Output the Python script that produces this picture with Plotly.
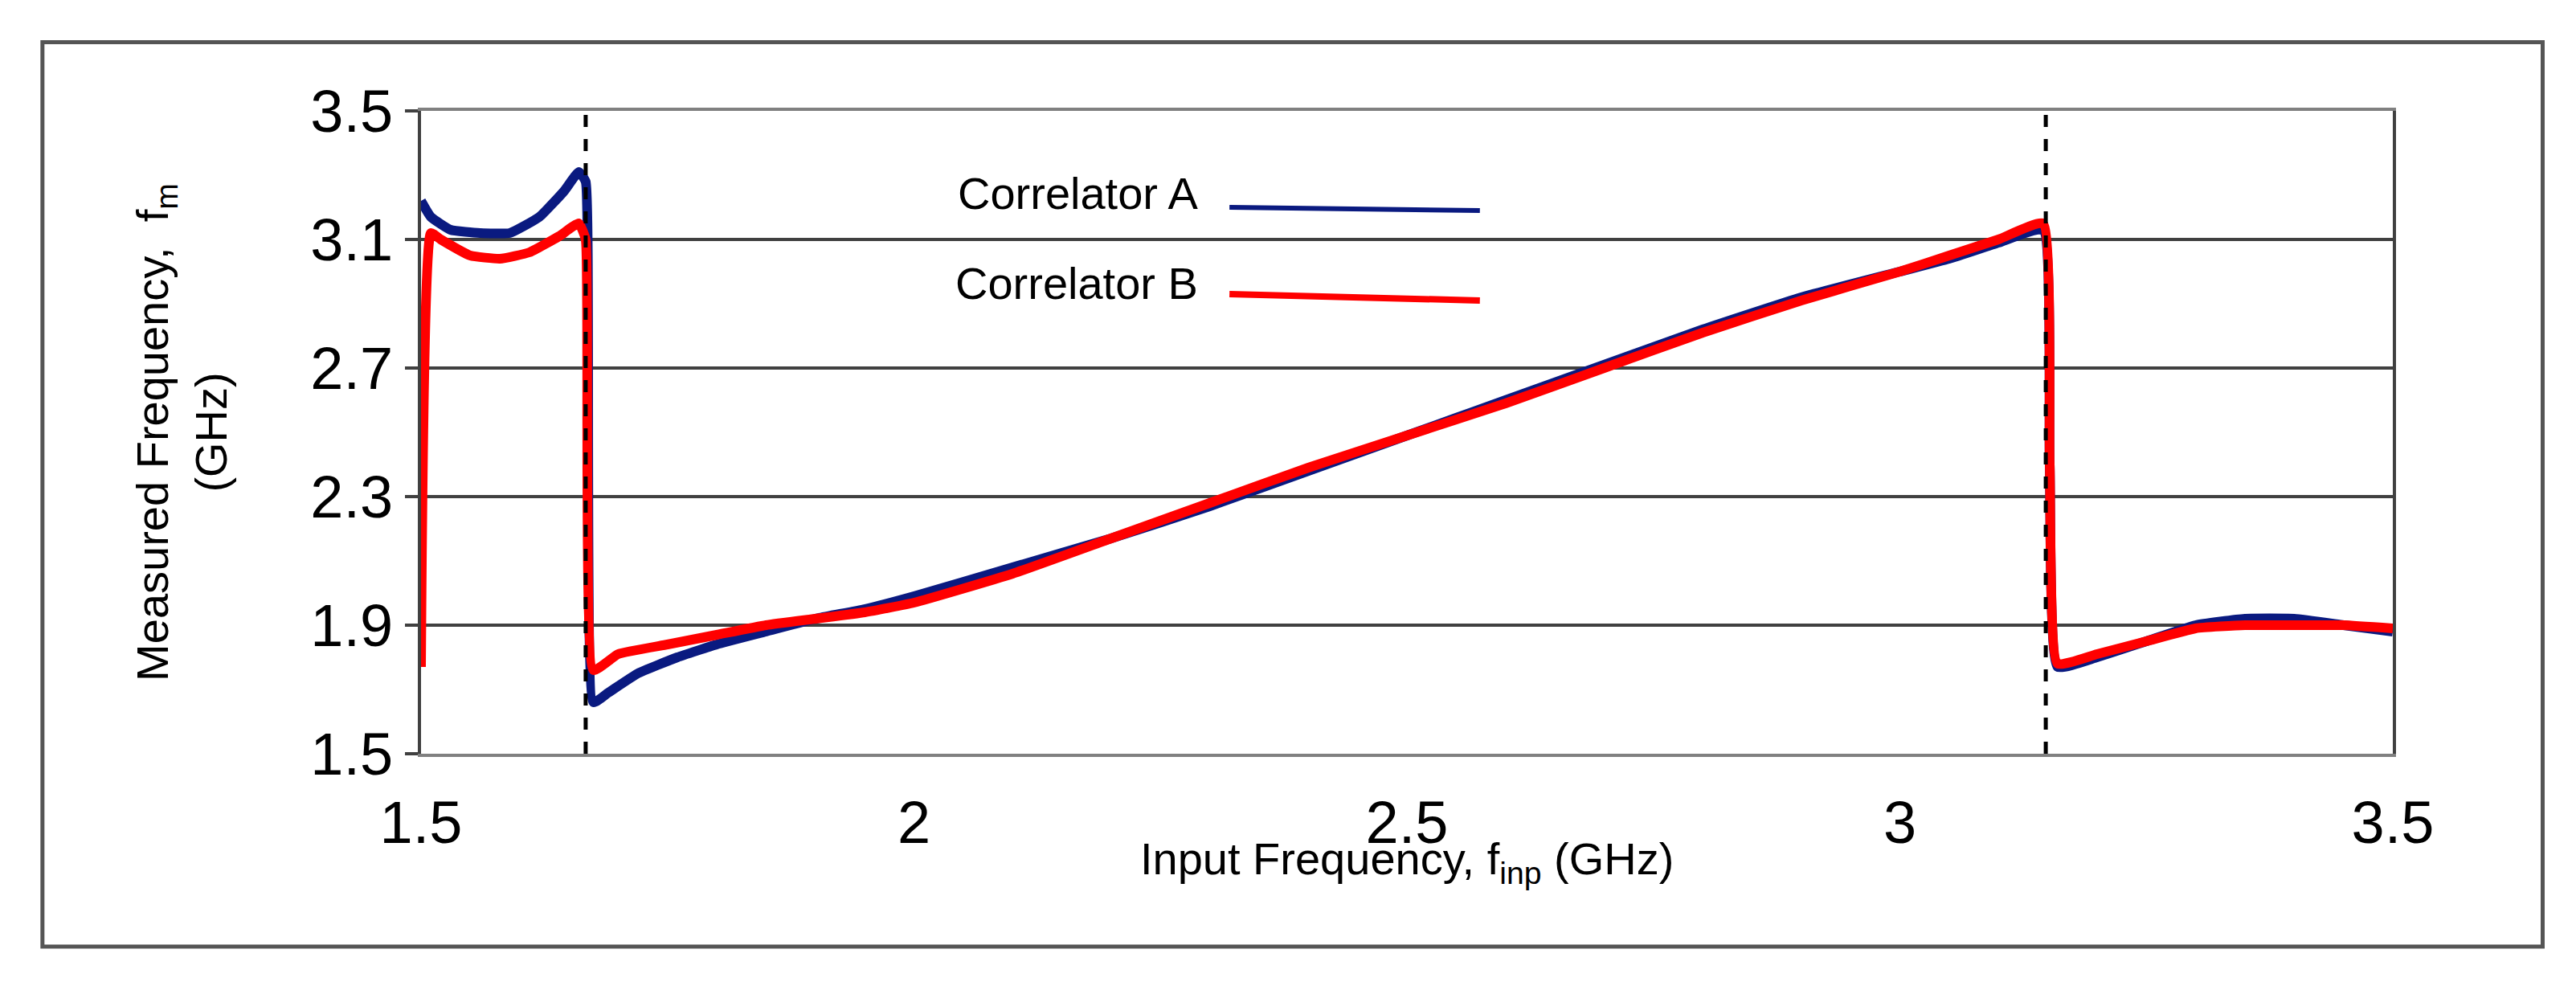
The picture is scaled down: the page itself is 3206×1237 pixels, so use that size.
import plotly.graph_objects as go

xa = [1.5, 1.51, 1.53, 1.56, 1.59, 1.62, 1.645, 1.66, 1.667, 1.675, 1.69, 1.72, 1.76, 1.8, 1.85, 1.9, 1.95, 2.0, 2.1, 2.2, 2.3, 2.4, 2.5, 2.6, 2.7, 2.8, 2.9, 3.0, 3.05, 3.1, 3.145, 3.152, 3.16, 3.2, 3.25, 3.3, 3.35, 3.4, 3.45, 3.5]
ya = [3.22, 3.17, 3.13, 3.12, 3.12, 3.17, 3.25, 3.31, 3.28, 1.66, 1.69, 1.75, 1.8, 1.84, 1.88, 1.92, 1.95, 1.99, 2.08, 2.17, 2.27, 2.38, 2.49, 2.6, 2.71, 2.82, 2.92, 3.0, 3.04, 3.09, 3.13, 2.4, 1.77, 1.8, 1.85, 1.9, 1.92, 1.92, 1.9, 1.88]
xb = [1.5, 1.51, 1.52, 1.55, 1.58, 1.61, 1.64, 1.66, 1.667, 1.675, 1.7, 1.75, 1.8, 1.85, 1.9, 1.95, 2.0, 2.1, 2.2, 2.3, 2.4, 2.5, 2.6, 2.7, 2.8, 2.9, 3.0, 3.05, 3.1, 3.145, 3.152, 3.16, 3.2, 3.25, 3.3, 3.35, 3.4, 3.45, 3.5]
yb = [1.77, 3.12, 3.1, 3.05, 3.04, 3.06, 3.11, 3.15, 3.1, 1.76, 1.81, 1.84, 1.87, 1.9, 1.92, 1.94, 1.97, 2.06, 2.17, 2.28, 2.39, 2.49, 2.59, 2.7, 2.81, 2.91, 3.0, 3.05, 3.1, 3.15, 2.4, 1.78, 1.81, 1.85, 1.89, 1.9, 1.9, 1.9, 1.89]
vlines = [1.667, 3.148]
yticks = [1.5, 1.9, 2.3, 2.7, 3.1, 3.5]
xticks = [1.5, 2, 2.5, 3, 3.5]
names = ["Correlator A", "Correlator B"]
colors = ["#0a1a80", "#ff0000"]

fig = go.Figure()
fig.add_trace(go.Scatter(x=xa, y=ya, mode="lines", line=dict(color=colors[0], width=12, shape="spline", smoothing=0.4), name=names[0]))
fig.add_trace(go.Scatter(x=xb, y=yb, mode="lines", line=dict(color=colors[1], width=12, shape="spline", smoothing=0.4), name=names[1]))

for v in vlines:
    fig.add_shape(type="line", x0=v, x1=v, y0=1.5, y1=3.5, xref="x", yref="y",
                  line=dict(color="black", width=5, dash="dash"), layer="above")

# legend drawn manually
fig.add_annotation(x=0.395, y=0.85, xref="paper", yref="paper", text=names[0], showarrow=False,
                   xanchor="right", yanchor="middle", yshift=18, font=dict(size=56, color="black"))
fig.add_annotation(x=0.395, y=0.71, xref="paper", yref="paper", text=names[1], showarrow=False,
                   xanchor="right", yanchor="middle", yshift=18, font=dict(size=56, color="black"))
fig.add_shape(type="line", xref="paper", yref="paper", x0=0.41, x1=0.537, y0=0.85, y1=0.845,
              line=dict(color=colors[0], width=6))
fig.add_shape(type="line", xref="paper", yref="paper", x0=0.41, x1=0.537, y0=0.715, y1=0.705,
              line=dict(color=colors[1], width=8))

# outer frame
fig.add_shape(type="rect", xref="paper", yref="paper", x0=-0.192, x1=1.076, y0=-0.30, y1=1.107,
              line=dict(color="#555555", width=5))

fig.add_annotation(x=-0.15, y=0.5, xref="paper", yref="paper", textangle=-90, showarrow=False,
                   text="Measured Frequency,  f<sub>m</sub><br>(GHz)", font=dict(size=56, color="black"))
fig.add_annotation(x=0.5, y=-0.215, xref="paper", yref="paper", showarrow=False,
                   text="Input Frequency, f<sub>inp</sub> (GHz)", font=dict(size=56, color="black"))

fig.update_layout(
    width=3206, height=1237, showlegend=False,
    margin=dict(l=516, r=236, t=130, b=307),
    paper_bgcolor="white", plot_bgcolor="white",
    font=dict(family="Liberation Sans, Arial", color="black"),
)
fig.update_xaxes(range=[1.5, 3.5], tickvals=xticks, ticktext=[str(t) for t in xticks],
                 showgrid=False, zeroline=False, showline=True, linecolor="#808080", linewidth=4,
                 mirror=True, tickfont=dict(size=74), ticks="", ticklabelstandoff=18)
fig.update_yaxes(range=[1.5, 3.5], tickvals=yticks, ticktext=[f"{t:.1f}" for t in yticks],
                 showgrid=True, gridcolor="#404040", gridwidth=4, zeroline=False,
                 showline=True, linecolor="#404040", linewidth=4, mirror=True,
                 tickfont=dict(size=74), ticks="outside", ticklen=16, tickcolor="#404040", tickwidth=4)
fig.write_html("out.html")
